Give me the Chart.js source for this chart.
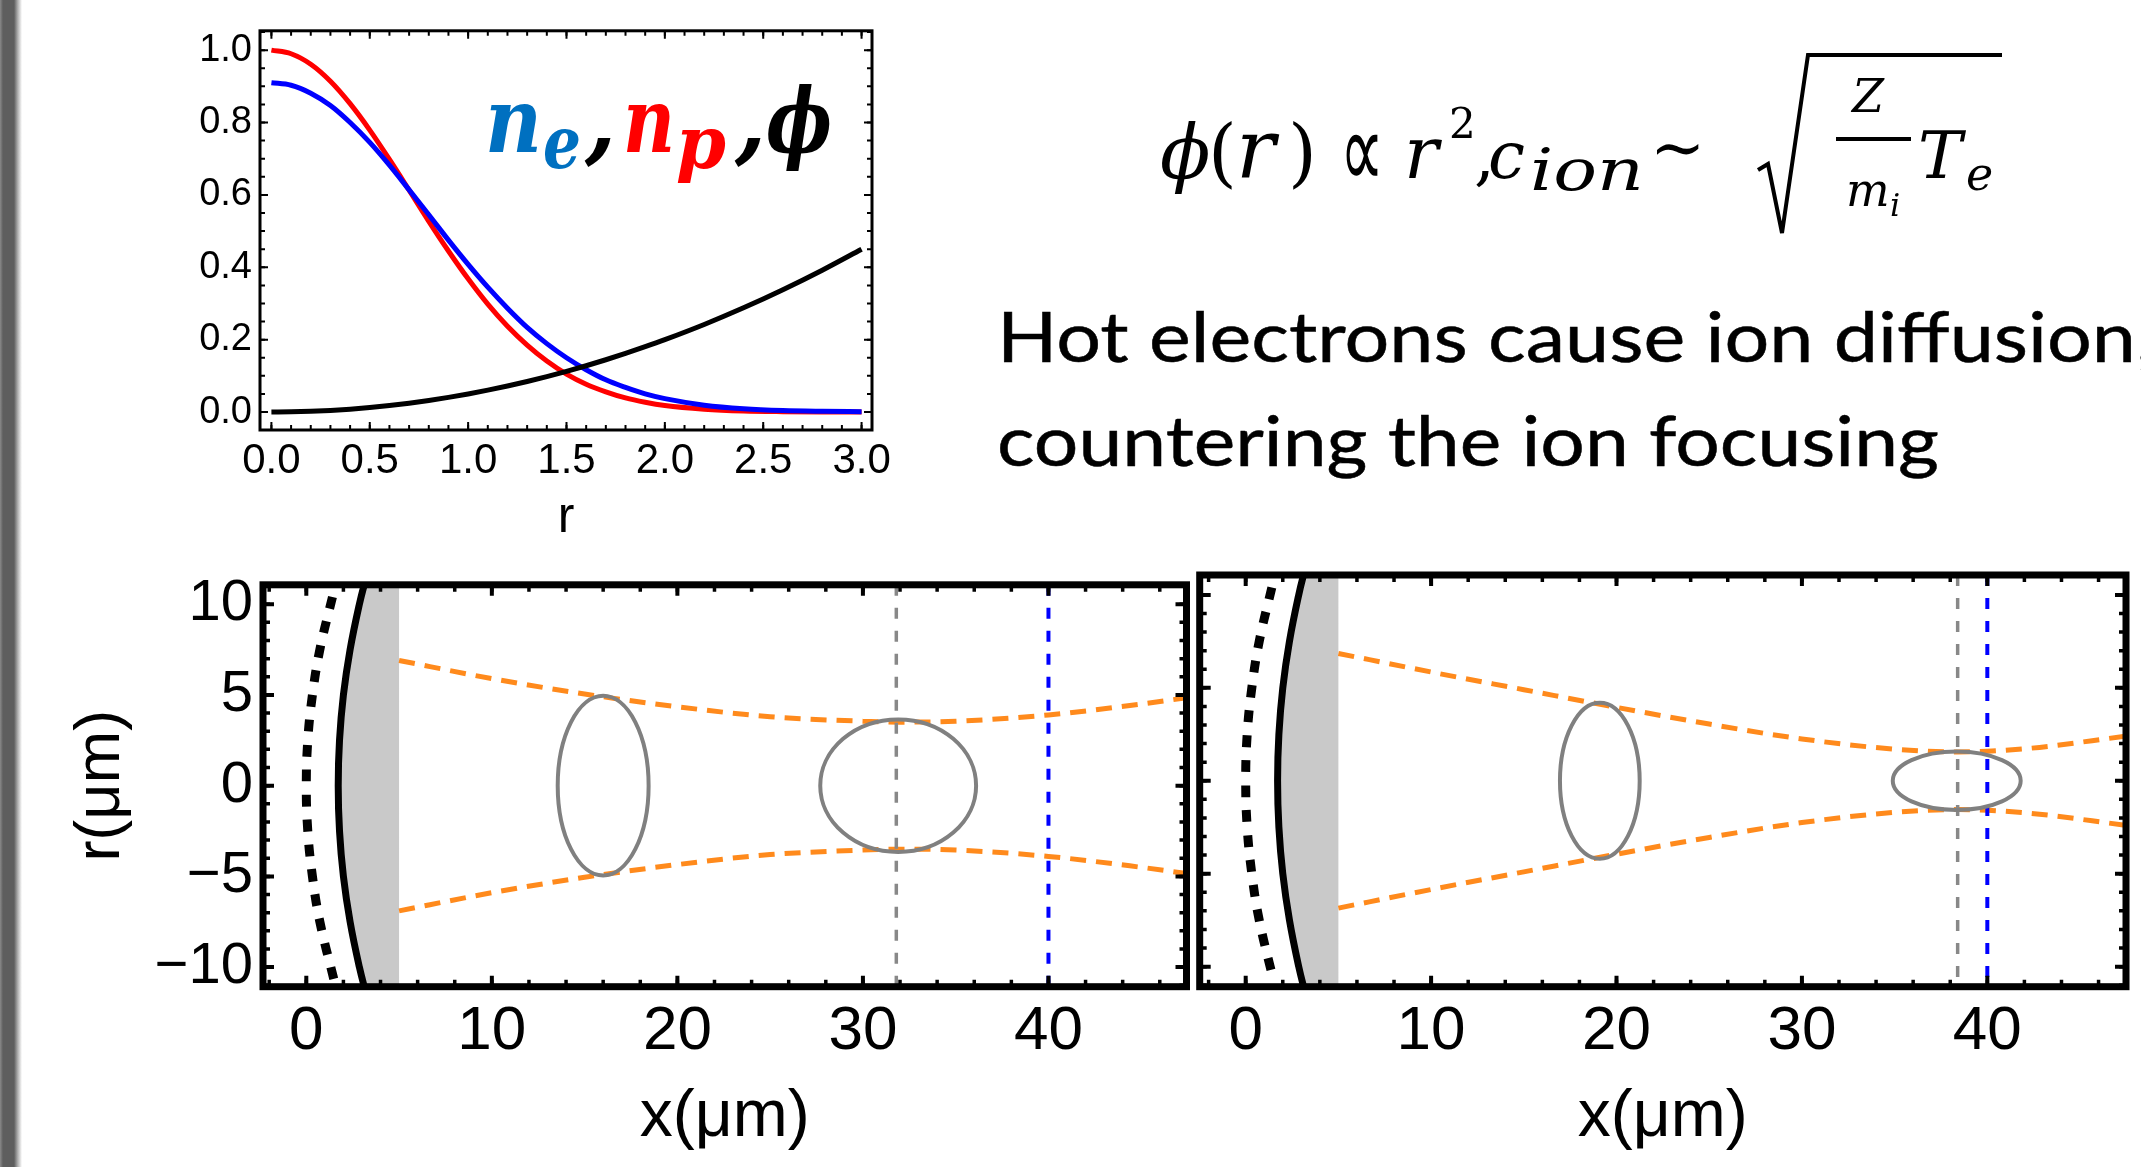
<!DOCTYPE html>
<html>
<head>
<meta charset="utf-8">
<script src="https://cdn.jsdelivr.net/npm/chart.js@4.4.1/dist/chart.umd.min.js"></script>
<style>
  html, body { margin: 0; padding: 0; background: #fff; overflow: hidden; }
  #page { position: relative; width: 2141px; height: 1167px; }
  canvas { position: absolute; }
  #edge {
    position: absolute; left: 0; top: 0; width: 22px; height: 1167px;
    background: linear-gradient(to right, #8a8a8a 0px, #5e5e5e 3px, #5e5e5e 14px, #b4b4b4 18px, #fff 22px);
  }
  #notes { position: absolute; left: 0; top: 0; pointer-events: none; }
</style>
</head>
<body>
<div id="page">
  <div id="edge"></div>
  <canvas id="profile" width="840" height="560" style="left:100px;top:0px"></canvas>
  <canvas id="hot" width="1165" height="627" style="left:30px;top:540px"></canvas>
  <canvas id="cold" width="946" height="627" style="left:1195px;top:540px"></canvas>

  <svg id="notes" width="2141" height="1167" xmlns="http://www.w3.org/2000/svg">
    <!-- curve names inside the profile panel -->
    <g font-family="'DejaVu Serif', serif" font-weight="bold" font-style="italic">
      <text x="485" y="152" font-size="90" fill="#0070c0" textLength="57" lengthAdjust="spacingAndGlyphs">n</text>
      <text x="543" y="168" font-size="72" fill="#0070c0" textLength="38" lengthAdjust="spacingAndGlyphs">e</text>
      <text x="585" y="152" font-size="90" fill="#000">,</text>
      <text x="623" y="152" font-size="90" fill="#ff0000" textLength="52" lengthAdjust="spacingAndGlyphs">n</text>
      <text x="676" y="168" font-size="72" fill="#ff0000" textLength="50" lengthAdjust="spacingAndGlyphs">p</text>
      <text x="735" y="152" font-size="90" fill="#000">,</text>
      <text x="766" y="152" font-size="90" fill="#000" textLength="66" lengthAdjust="spacingAndGlyphs">ϕ</text>
    </g>

    <!-- scaling relations -->
    <g font-family="'DejaVu Serif', serif" font-style="italic" fill="#000">
      <text x="1160" y="178" font-size="74">ϕ</text>
      <text x="1208" y="178" font-size="74" font-style="normal">(</text>
      <text x="1236" y="178" font-size="82">r</text>
      <text x="1288" y="178" font-size="74" font-style="normal">)</text>
      <text x="1340" y="188" font-size="110" font-family="'DejaVu Sans', sans-serif" font-style="normal" textLength="44" lengthAdjust="spacingAndGlyphs">∝</text>
      <text x="1404" y="178" font-size="72">r</text>
      <text x="1449" y="138" font-size="42" font-style="normal">2</text>
      <text x="1474" y="178" font-size="66" font-style="normal">,</text>
      <text x="1488" y="178" font-size="66">c</text>
      <text x="1530" y="190" font-size="58" textLength="114" lengthAdjust="spacingAndGlyphs">ion</text>
      <text x="1650" y="170" font-size="66" font-style="normal">∼</text>
      <path d="M1758,170 L1768,164 L1782,233 L1808,55 L2002,55" fill="none" stroke="#000" stroke-width="4"/>
      <text x="1852" y="112" font-size="46">Z</text>
      <line x1="1836" y1="139" x2="1911" y2="139" stroke="#000" stroke-width="4"/>
      <text x="1846" y="206" font-size="46">m</text>
      <text x="1890" y="216" font-size="32">i</text>
      <text x="1918" y="178" font-size="66">T</text>
      <text x="1966" y="190" font-size="46">e</text>
    </g>

    <g font-family="Lato, 'Open Sans', sans-serif" fill="#000" stroke="#000" stroke-width="0.5">
      <text x="997" y="362" font-size="70" textLength="1139" lengthAdjust="spacingAndGlyphs">Hot electrons cause ion diffusion</text>
      <text x="2137" y="362" font-size="70">,</text>
      <text x="997" y="466" font-size="70" textLength="942" lengthAdjust="spacingAndGlyphs">countering the ion focusing</text>
    </g>
  </svg>
</div>

<script>
// ---- radial profiles (top panel) ----
const profileR  = [0, 0.1, 0.2, 0.3, 0.4, 0.5, 0.6, 0.7, 0.8, 0.9, 1.0, 1.1, 1.2, 1.3, 1.4, 1.5, 1.6, 1.7, 1.8, 1.9, 2.0, 2.2, 2.4, 2.6, 2.8, 3.0];
const nProton   = [1.0, 0.99, 0.961, 0.914, 0.852, 0.779, 0.698, 0.613, 0.527, 0.445, 0.368, 0.298, 0.237, 0.185, 0.141, 0.105, 0.077, 0.056, 0.039, 0.027, 0.018, 0.008, 0.003, 0.001, 0.0, 0.0];
const nElectron = [0.91, 0.903, 0.881, 0.847, 0.80, 0.745, 0.682, 0.614, 0.545, 0.475, 0.408, 0.345, 0.287, 0.234, 0.189, 0.15, 0.117, 0.089, 0.068, 0.05, 0.037, 0.019, 0.009, 0.004, 0.002, 0.001];
const potential = [0.0, 0.0005, 0.002, 0.0045, 0.008, 0.0125, 0.018, 0.0245, 0.032, 0.0405, 0.05, 0.0605, 0.072, 0.0845, 0.098, 0.1125, 0.128, 0.1445, 0.162, 0.1805, 0.2, 0.242, 0.288, 0.338, 0.392, 0.45];

const profileXTicks  = [0, 0.5, 1, 1.5, 2, 2.5, 3];
const profileXLabels = ['0.0', '0.5', '1.0', '1.5', '2.0', '2.5', '3.0'];
const profileYTicks  = [0, 0.2, 0.4, 0.6, 0.8, 1.0];
const profileYLabels = ['0.0', '0.2', '0.4', '0.6', '0.8', '1.0'];

// ---- target geometry shared by both slices ----
const surfaceR = [11.5, 10, 7.5, 5, 2.5, 0, -2.5, -5, -7.5, -10, -11.5];
const surfaceX = [3.23, 2.86, 2.36, 2.0, 1.79, 1.72, 1.79, 2.0, 2.36, 2.86, 3.23];
const frontR   = [10.4, 7.5, 5, 2.5, 0, -2.5, -5, -7.5, -10.7];
const frontX   = [1.41, 0.73, 0.33, 0.08, 0, 0.08, 0.33, 0.73, 1.49];
const foilRear = 5;
const detectorX = 40;

// ---- Te1 = 880 keV ----
const hotEnvX     = [5, 10, 15, 20, 25, 30, 32, 35, 40, 45, 47.5];
const hotEnvUpper = [6.9, 5.9, 5.05, 4.35, 3.8, 3.55, 3.5, 3.55, 3.9, 4.5, 4.85];
const hotEnvLower = [-6.9, -5.9, -5.05, -4.35, -3.8, -3.55, -3.5, -3.55, -3.9, -4.5, -4.85];
const hotBunchX   = [16, 31.9];
const hotBunchW   = [2.45, 4.2];
const hotBunchH   = [4.95, 3.65];
const hotFocus    = 31.8;

// ---- Te2 = 220 keV ----
const coldEnvX     = [5, 10, 15, 20, 25, 30, 35, 38.4, 42, 47.5];
const coldEnvUpper = [6.85, 5.85, 4.9, 3.95, 3.05, 2.25, 1.7, 1.55, 1.72, 2.4];
const coldEnvLower = [-6.85, -5.85, -4.9, -3.95, -3.05, -2.25, -1.7, -1.55, -1.72, -2.4];
const coldBunchX   = [19.1, 38.35];
const coldBunchW   = [2.15, 3.45];
const coldBunchH   = [4.2, 1.57];
const coldFocus    = 38.4;

const sliceXTicks  = [0, 10, 20, 30, 40];
const sliceXLabels = ['0', '10', '20', '30', '40'];
const sliceYTicks  = [-10, -5, 0, 5, 10];
const sliceYLabels = ['\u221210', '\u22125', '0', '5', '10'];
const sliceRMin = -11.08, sliceRMax = 11.07;

Chart.defaults.font.family = "'Liberation Sans', Arial, sans-serif";
Chart.defaults.color = '#000';

const pairs = (xs, ys) => xs.map((x, i) => ({ x, y: ys[i] }));
const steps = (a, b, s) => {
  const out = [];
  for (let v = a; v <= b + 1e-9; v += s) out.push(Math.round(v * 1000) / 1000);
  return out;
};

// Mathematica-style frame: box on all four sides with inward ticks
function framePlugin(f) {
  return {
    id: 'frame',
    afterDraw(chart) {
      const { ctx, chartArea: a } = chart;
      const sx = chart.scales.x, sy = chart.scales.y;
      ctx.save();
      ctx.strokeStyle = '#000';
      const marks = (vals, len, w, horiz) => {
        ctx.lineWidth = w;
        ctx.beginPath();
        for (const v of vals) {
          if (horiz) {
            const p = sx.getPixelForValue(v);
            if (p < a.left || p > a.right) continue;
            ctx.moveTo(p, a.bottom); ctx.lineTo(p, a.bottom - len);
            ctx.moveTo(p, a.top); ctx.lineTo(p, a.top + len);
          } else {
            const p = sy.getPixelForValue(v);
            if (p < a.top || p > a.bottom) continue;
            ctx.moveTo(a.left, p); ctx.lineTo(a.left + len, p);
            ctx.moveTo(a.right, p); ctx.lineTo(a.right - len, p);
          }
        }
        ctx.stroke();
      };
      marks(f.xMinor, f.minorLen, f.minorW, true);
      marks(f.xMajor, f.majorLen, f.majorW, true);
      marks(f.yMinor, f.minorLen, f.minorW, false);
      marks(f.yMajor, f.majorLen, f.majorW, false);
      ctx.lineWidth = f.width;
      ctx.strokeRect(a.left, a.top, a.right - a.left, a.bottom - a.top);
      ctx.restore();
    }
  };
}

// ion bunch outlines, centred on the axis
function bunchPlugin(cx, hw, hh) {
  return {
    id: 'bunches',
    afterDatasetsDraw(chart) {
      const { ctx } = chart;
      const sx = chart.scales.x, sy = chart.scales.y;
      ctx.save();
      ctx.strokeStyle = '#808080';
      ctx.lineWidth = 4;
      cx.forEach((c, i) => {
        const px = sx.getPixelForValue(c);
        const py = sy.getPixelForValue(0);
        const rx = Math.abs(sx.getPixelForValue(c + hw[i]) - px);
        const ry = Math.abs(sy.getPixelForValue(hh[i]) - py);
        ctx.beginPath();
        ctx.ellipse(px, py, rx, ry, 0, 0, 2 * Math.PI);
        ctx.stroke();
      });
      ctx.restore();
    }
  };
}

const flat = { grid: { display: false, drawTicks: false }, border: { display: false } };

// top panel
new Chart(document.getElementById('profile'), {
  type: 'scatter',
  data: {
    datasets: [
      { data: pairs(profileR, potential), borderColor: '#000000' },
      { data: pairs(profileR, nElectron), borderColor: '#0000ff' },
      { data: pairs(profileR, nProton), borderColor: '#ff0000' }
    ].map(d => ({ showLine: true, pointRadius: 0, borderWidth: 5, cubicInterpolationMode: 'monotone', ...d }))
  },
  options: {
    responsive: false, animation: false, devicePixelRatio: 1,
    layout: { padding: { top: 23, right: 68, left: 0, bottom: 0 } },
    plugins: { legend: { display: false }, tooltip: { enabled: false } },
    scales: {
      x: {
        type: 'linear', min: -0.058, max: 3.053, ...flat,
        afterBuildTicks: s => { s.ticks = profileXTicks.map(v => ({ value: v })); },
        afterFit: s => { s.height = 130; },
        ticks: { autoSkip: false, maxRotation: 0, padding: 6, font: { size: 42 },
                 callback: (v, i) => profileXLabels[i] },
        title: { display: true, text: 'r', font: { size: 50 }, padding: { top: 0, bottom: 12 } }
      },
      y: {
        type: 'linear', min: -0.0496, max: 1.0534, ...flat,
        afterBuildTicks: s => { s.ticks = profileYTicks.map(v => ({ value: v })); },
        afterFit: s => { s.width = 160; },
        ticks: { autoSkip: false, padding: 8, font: { size: 38 },
                 callback: (v, i) => profileYLabels[i] }
      }
    }
  },
  plugins: [framePlugin({
    xMajor: profileXTicks, xMinor: steps(0, 3.0, 0.1),
    yMajor: profileYTicks, yMinor: steps(0, 1.05, 0.05),
    majorLen: 8, minorLen: 5, majorW: 2, minorW: 2, width: 3
  })]
});

// bottom panels: ion beam envelope behind the target
function slicePanel(id, p) {
  const orange = '#ff8a1c';
  return new Chart(document.getElementById(id), {
    type: 'scatter',
    data: {
      datasets: [
        { data: [{ x: detectorX, y: sliceRMax }, { x: detectorX, y: sliceRMin }],
          borderColor: '#0000ff', borderWidth: 4, borderDash: [11, 12] },
        { data: [{ x: p.focus, y: sliceRMax }, { x: p.focus, y: sliceRMin }],
          borderColor: '#888888', borderWidth: 3.5, borderDash: [11, 12] },
        { data: pairs(p.envX, p.envUpper), borderColor: orange, borderWidth: 5,
          borderDash: [16, 10], cubicInterpolationMode: 'monotone' },
        { data: pairs(p.envX, p.envLower), borderColor: orange, borderWidth: 5,
          borderDash: [16, 10], cubicInterpolationMode: 'monotone' },
        { data: pairs(frontX, frontR), borderColor: '#000000', borderWidth: 9,
          borderDash: [12, 13], tension: 0.4 },
        { data: pairs(surfaceX, surfaceR), borderColor: '#000000', borderWidth: 7,
          backgroundColor: '#c9c9c9', fill: { value: foilRear }, indexAxis: 'y', tension: 0.4 }
      ].map(d => ({ showLine: true, pointRadius: 0, ...d }))
    },
    options: {
      responsive: false, animation: false, devicePixelRatio: 1,
      layout: { padding: { top: 35, right: p.padRight, left: p.padLeft, bottom: 0 } },
      plugins: { legend: { display: false }, tooltip: { enabled: false } },
      scales: {
        x: {
          type: 'linear', min: p.xMin, max: p.xMax, ...flat,
          afterBuildTicks: s => { s.ticks = sliceXTicks.map(v => ({ value: v })); },
          afterFit: s => { s.height = 180.3; },
          ticks: { autoSkip: false, maxRotation: 0, padding: 8, font: { size: 62 },
                   callback: (v, i) => sliceXLabels[i] },
          title: { display: true, text: 'x(\u03bcm)', font: { size: 66 }, padding: { top: 0, bottom: 10 } }
        },
        y: {
          type: 'linear', min: sliceRMin, max: sliceRMax, ...flat,
          display: p.showY,
          afterBuildTicks: s => { s.ticks = sliceYTicks.map(v => ({ value: v })); },
          afterFit: s => { s.width = p.yWidth; },
          ticks: { autoSkip: false, padding: 10, font: { size: 58 },
                   callback: (v, i) => sliceYLabels[i] },
          title: { display: true, text: 'r(\u03bcm)', font: { size: 63 }, padding: { top: 34, bottom: 0 } }
        }
      }
    },
    plugins: [
      bunchPlugin(p.bunchX, p.bunchW, p.bunchH),
      framePlugin({
        xMajor: sliceXTicks, xMinor: steps(-2, 46, 2),
        yMajor: sliceYTicks, yMinor: steps(-11, 11, 1),
        majorLen: 11, minorLen: 7, majorW: 4, minorW: 3.5, width: 7
      })
    ]
  });
}

slicePanel('hot', {
  envX: hotEnvX, envUpper: hotEnvUpper, envLower: hotEnvLower,
  bunchX: hotBunchX, bunchW: hotBunchW, bunchH: hotBunchH, focus: hotFocus,
  xMin: -2.334, xMax: 47.44, showY: true, yWidth: 233, padLeft: 0, padRight: 8.5
});

slicePanel('cold', {
  envX: coldEnvX, envUpper: coldEnvUpper, envLower: coldEnvLower,
  bunchX: coldBunchX, bunchW: coldBunchW, bunchH: coldBunchH, focus: coldFocus,
  xMin: -2.481, xMax: 47.48, showY: false, yWidth: 0, padLeft: 4.7, padRight: 15
});
</script>
</body>
</html>
